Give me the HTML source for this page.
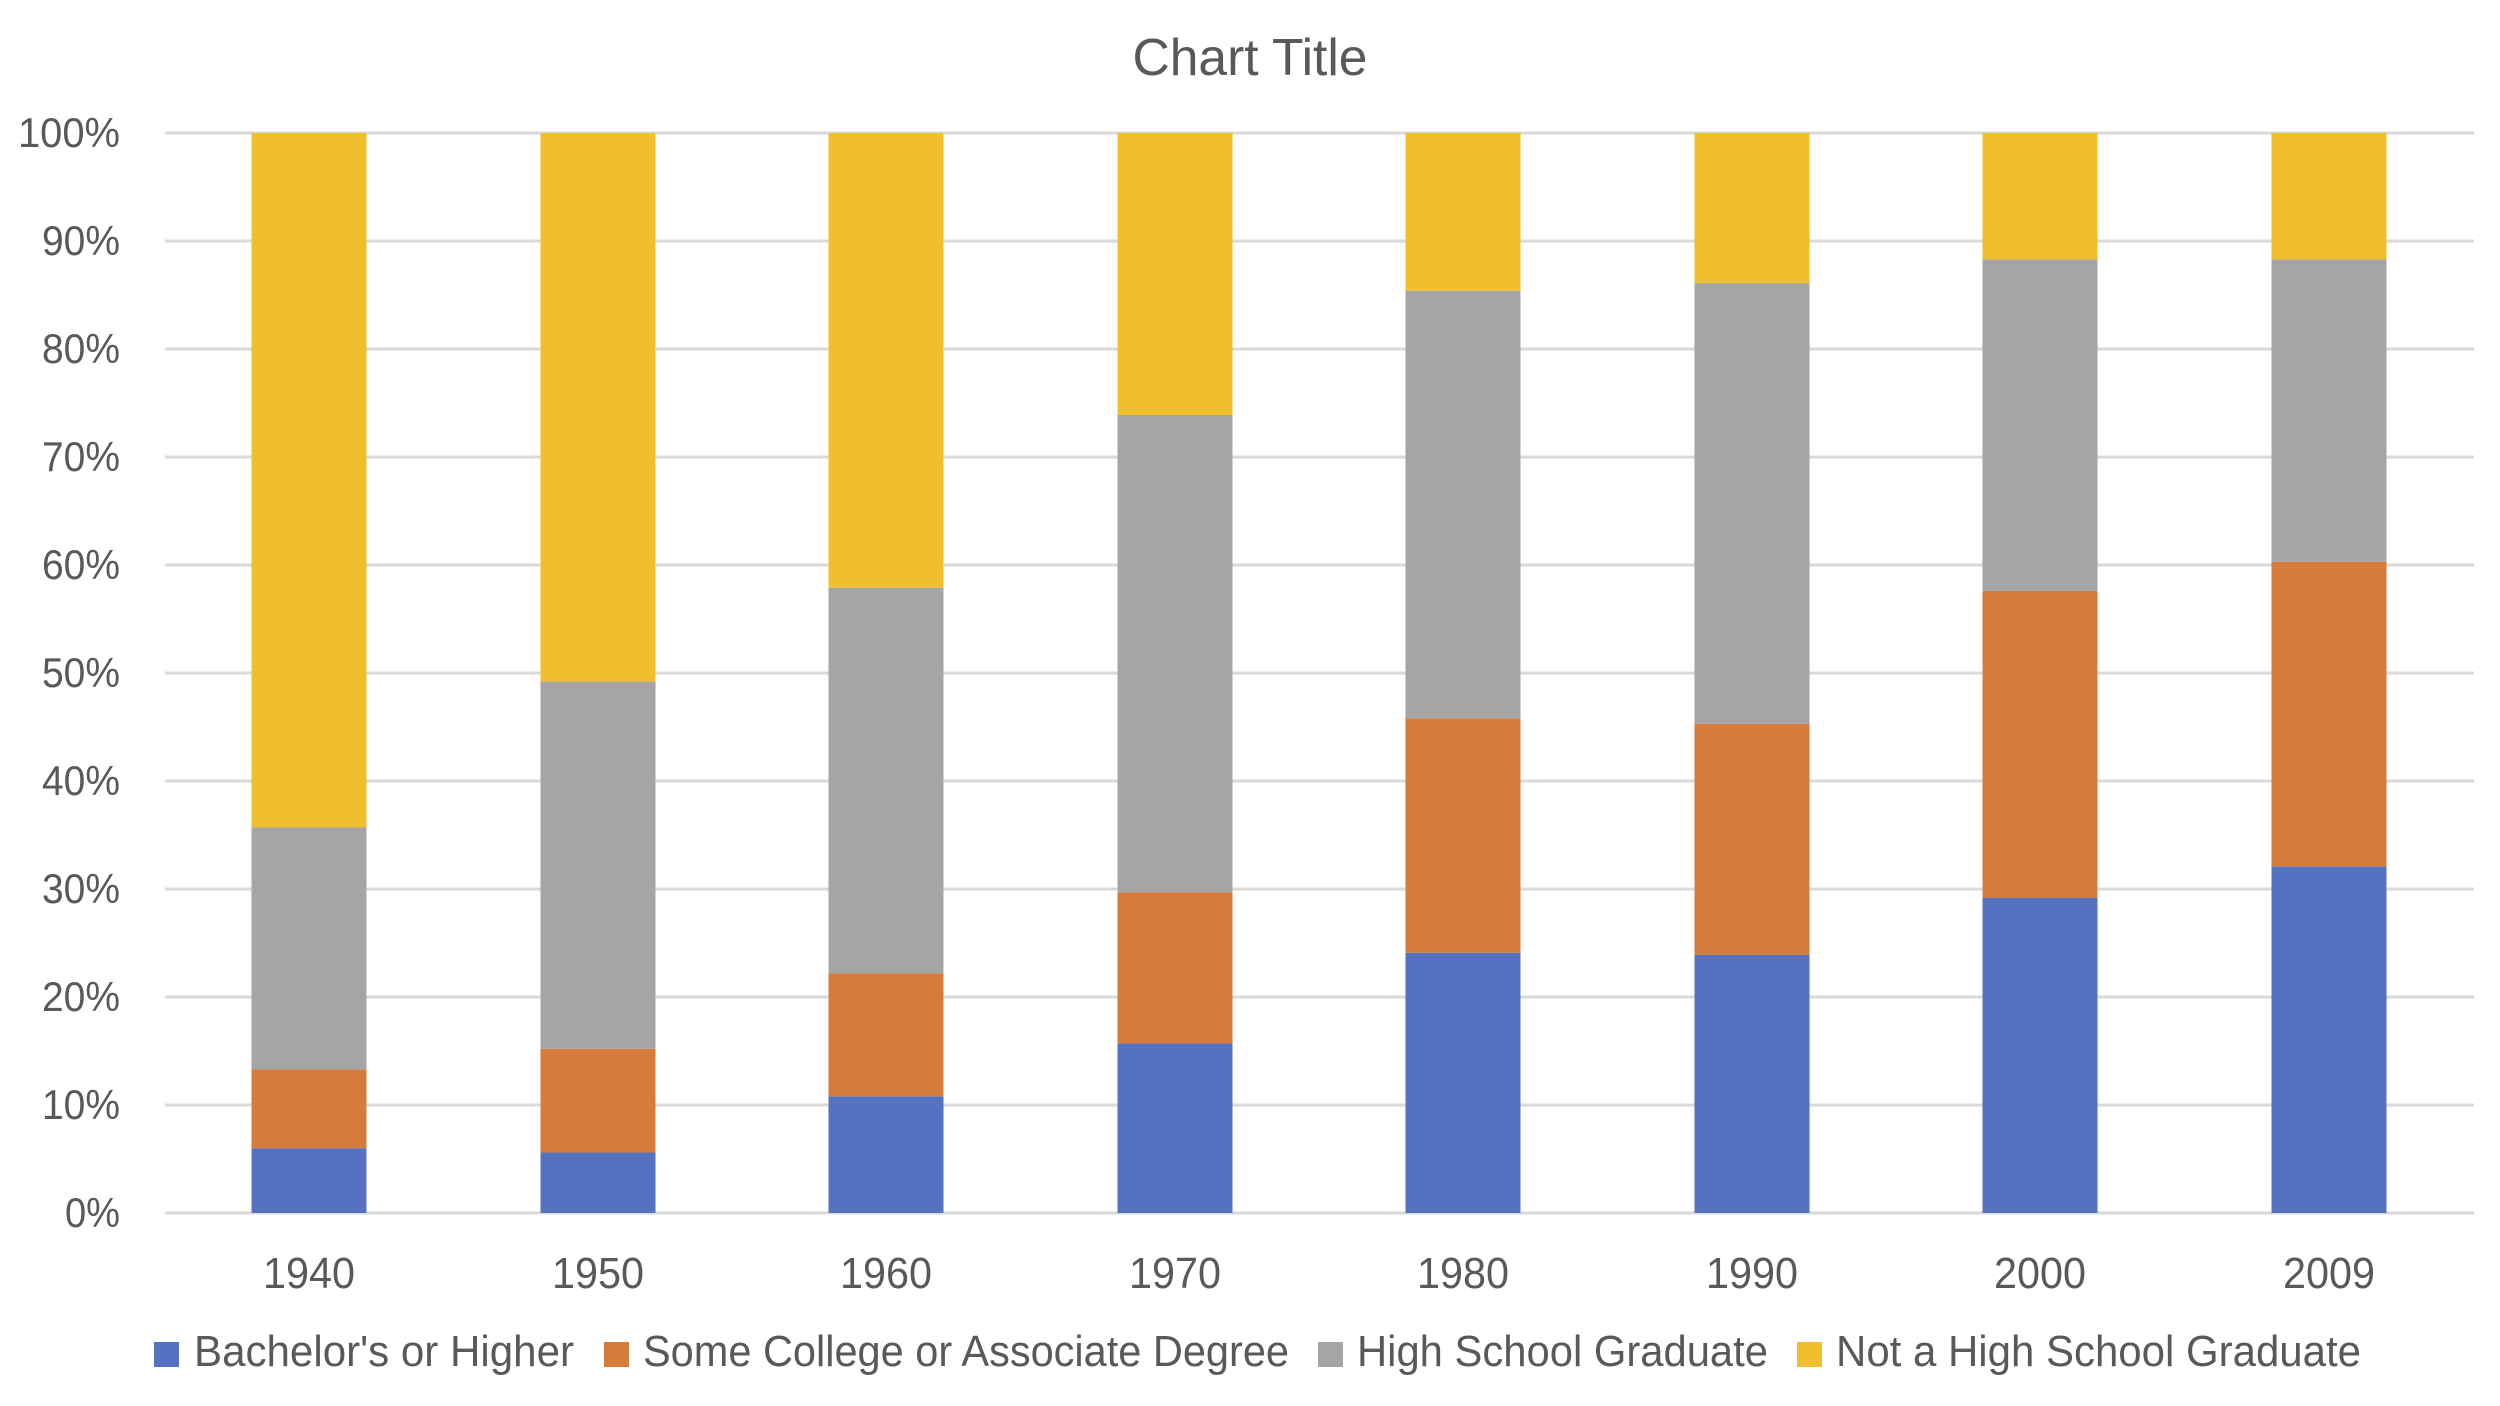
<!DOCTYPE html>
<html><head><meta charset="utf-8"><style>
html,body{margin:0;padding:0;background:#fff;}
svg{display:block;}
text{font-family:"Liberation Sans",sans-serif;fill:#595959;}
</style></head><body>
<svg width="2500" height="1406" viewBox="0 0 2500 1406" xmlns="http://www.w3.org/2000/svg">
<rect width="2500" height="1406" fill="#fff"/>
<text x="1250" y="75" font-size="52" text-anchor="middle" textLength="235" lengthAdjust="spacingAndGlyphs">Chart Title</text>
<g stroke="#d9d9d9" stroke-width="3">
<line x1="165" x2="2474" y1="133" y2="133"/>
<line x1="165" x2="2474" y1="241" y2="241"/>
<line x1="165" x2="2474" y1="349" y2="349"/>
<line x1="165" x2="2474" y1="457" y2="457"/>
<line x1="165" x2="2474" y1="565" y2="565"/>
<line x1="165" x2="2474" y1="673" y2="673"/>
<line x1="165" x2="2474" y1="781" y2="781"/>
<line x1="165" x2="2474" y1="889" y2="889"/>
<line x1="165" x2="2474" y1="997" y2="997"/>
<line x1="165" x2="2474" y1="1105" y2="1105"/>
<line x1="165" x2="2474" y1="1213" y2="1213"/>
</g>
<g font-size="42" text-anchor="end">
<text x="120" y="147" textLength="102" lengthAdjust="spacingAndGlyphs">100%</text>
<text x="120" y="255" textLength="78" lengthAdjust="spacingAndGlyphs">90%</text>
<text x="120" y="363" textLength="78" lengthAdjust="spacingAndGlyphs">80%</text>
<text x="120" y="471" textLength="78" lengthAdjust="spacingAndGlyphs">70%</text>
<text x="120" y="579" textLength="78" lengthAdjust="spacingAndGlyphs">60%</text>
<text x="120" y="687" textLength="78" lengthAdjust="spacingAndGlyphs">50%</text>
<text x="120" y="795" textLength="78" lengthAdjust="spacingAndGlyphs">40%</text>
<text x="120" y="903" textLength="78" lengthAdjust="spacingAndGlyphs">30%</text>
<text x="120" y="1011" textLength="78" lengthAdjust="spacingAndGlyphs">20%</text>
<text x="120" y="1119" textLength="78" lengthAdjust="spacingAndGlyphs">10%</text>
<text x="120" y="1227" textLength="55" lengthAdjust="spacingAndGlyphs">0%</text>
</g>
<g id="bars"></g>
<g font-size="44" text-anchor="middle">
<text x="309" y="1288" textLength="92" lengthAdjust="spacingAndGlyphs">1940</text>
<text x="598" y="1288" textLength="92" lengthAdjust="spacingAndGlyphs">1950</text>
<text x="886" y="1288" textLength="92" lengthAdjust="spacingAndGlyphs">1960</text>
<text x="1175" y="1288" textLength="92" lengthAdjust="spacingAndGlyphs">1970</text>
<text x="1463" y="1288" textLength="92" lengthAdjust="spacingAndGlyphs">1980</text>
<text x="1752" y="1288" textLength="92" lengthAdjust="spacingAndGlyphs">1990</text>
<text x="2040" y="1288" textLength="92" lengthAdjust="spacingAndGlyphs">2000</text>
<text x="2329" y="1288" textLength="92" lengthAdjust="spacingAndGlyphs">2009</text>
</g>
<rect x="154" y="1342" width="25" height="25" fill="#5572C0"/>
<rect x="604" y="1342" width="25" height="25" fill="#D67B39"/>
<rect x="1318" y="1342" width="25" height="25" fill="#A5A5A5"/>
<rect x="1797" y="1342" width="25" height="25" fill="#EFBF2E"/>
<g font-size="44">
<text x="194" y="1366" textLength="380" lengthAdjust="spacingAndGlyphs">Bachelor's or Higher</text>
<text x="643" y="1366" textLength="646" lengthAdjust="spacingAndGlyphs">Some College or Associate Degree</text>
<text x="1357" y="1366" textLength="411" lengthAdjust="spacingAndGlyphs">High School Graduate</text>
<text x="1836" y="1366" textLength="525" lengthAdjust="spacingAndGlyphs">Not a High School Graduate</text>
</g>
</svg>
<script>
var d=[[309,6,13.3,35.7],[598,5.6,15.2,49.2],[886,10.8,22.2,57.9],[1175,15.7,29.7,73.9],[1463,24.1,45.8,85.4],[1752,23.9,45.3,86.1],[2040,29.2,57.6,88.3],[2329,32.1,60.3,88.3]];
var c=["#5572C0","#D67B39","#A5A5A5","#EFBF2E"];
var g=document.getElementById("bars"),ns="http://www.w3.org/2000/svg";
function y(p){return 1213-p*10.8;}
d.forEach(function(r){var v=[0,r[1],r[2],r[3],100];for(var i=0;i<4;i++){var e=document.createElementNS(ns,"rect");e.setAttribute("x",r[0]-57.5);e.setAttribute("width",115);e.setAttribute("y",y(v[i+1]));e.setAttribute("height",y(v[i])-y(v[i+1]));e.setAttribute("fill",c[i]);g.appendChild(e);}});
</script>
</body></html>
